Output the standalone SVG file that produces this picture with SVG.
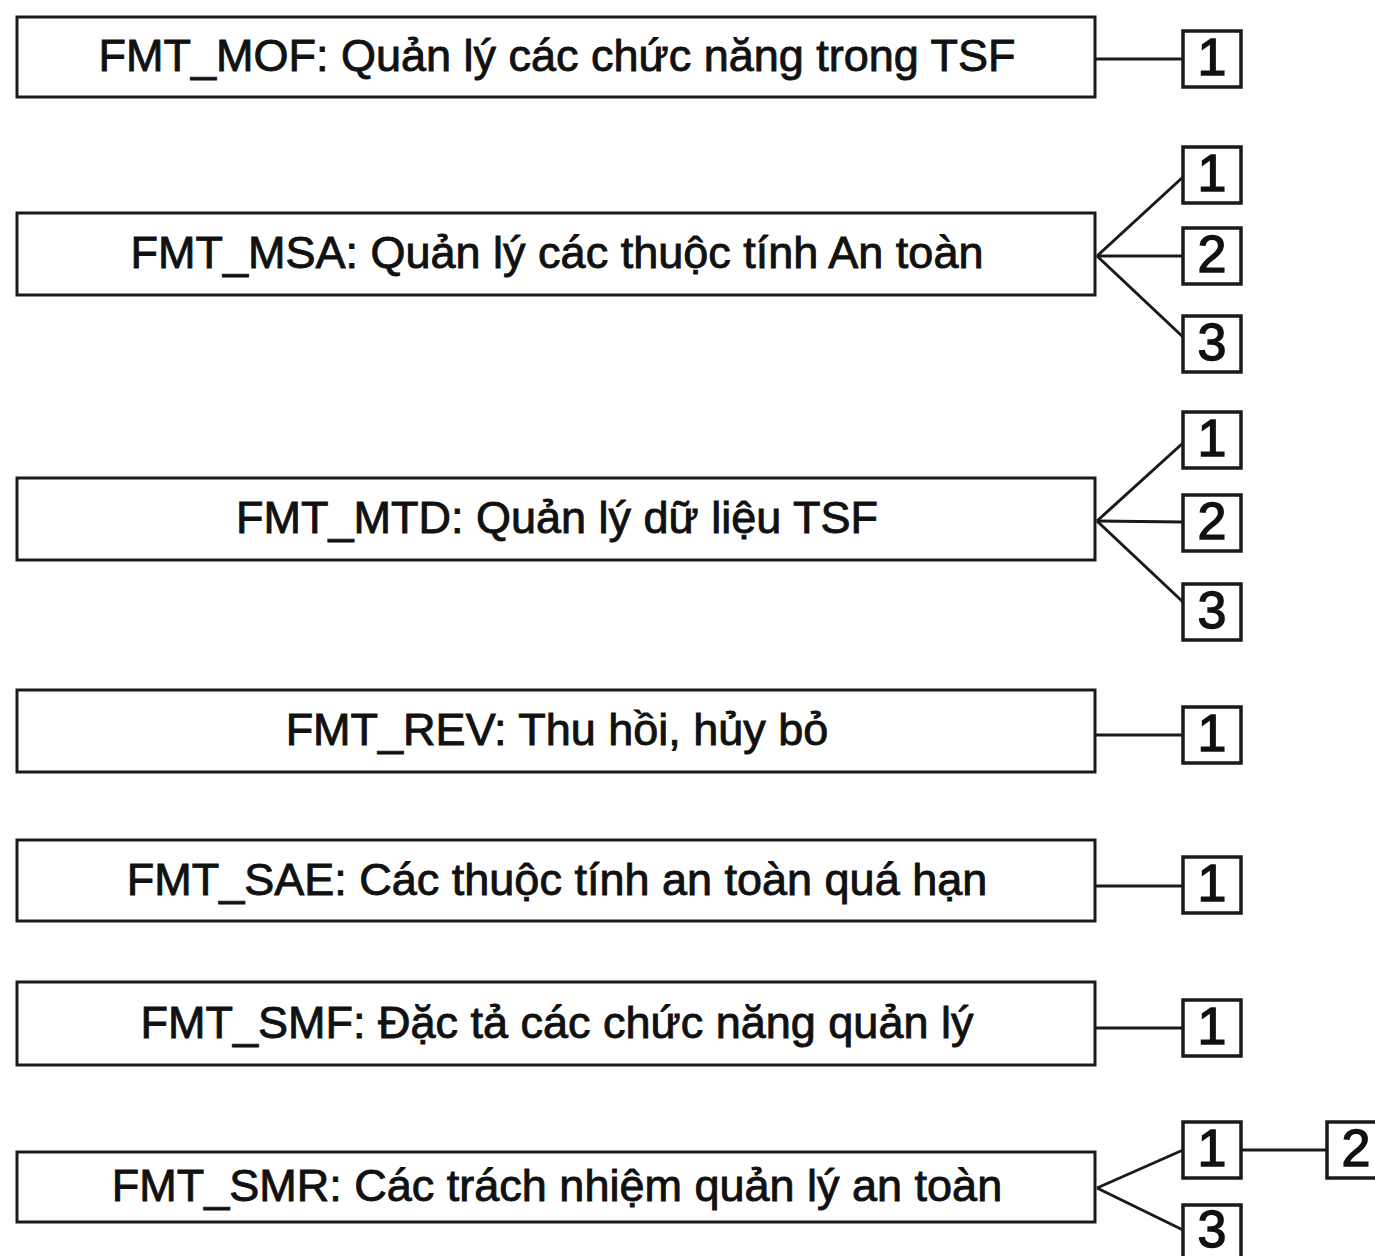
<svg xmlns="http://www.w3.org/2000/svg" width="1375" height="1256" viewBox="0 0 1375 1256">
<style>
.box{fill:#fff;stroke:#1a1a1a;stroke-width:3}
.sm{fill:#fff;stroke:#1a1a1a;stroke-width:3.5}
.lbl{font-family:"Liberation Sans",Arial,sans-serif;font-size:45px;fill:#111;stroke:#111;stroke-width:0.9;text-anchor:middle}
.num{font-family:"Liberation Sans",Arial,sans-serif;font-size:52px;fill:#111;stroke:#111;stroke-width:1.4;text-anchor:middle}
.con{stroke:#1a1a1a;stroke-width:3;fill:none}
</style>
<rect width="1375" height="1256" fill="#fff"/>
<g id="connectors">
<line class="con" x1="1095" y1="59" x2="1183" y2="59"/>
<line class="con" x1="1097" y1="256" x2="1183" y2="177"/>
<line class="con" x1="1097" y1="256" x2="1183" y2="256"/>
<line class="con" x1="1097" y1="256" x2="1183" y2="337"/>
<line class="con" x1="1097" y1="521" x2="1183" y2="443"/>
<line class="con" x1="1097" y1="521" x2="1183" y2="522"/>
<line class="con" x1="1097" y1="521" x2="1183" y2="602"/>
<line class="con" x1="1095" y1="735" x2="1183" y2="735"/>
<line class="con" x1="1095" y1="886" x2="1183" y2="886"/>
<line class="con" x1="1095" y1="1028" x2="1183" y2="1028"/>
<line class="con" x1="1097" y1="1188" x2="1183" y2="1150"/>
<line class="con" x1="1097" y1="1188" x2="1183" y2="1230"/>
<line class="con" x1="1241" y1="1150" x2="1327" y2="1150"/>
</g>
<g id="FMT_MOF"><rect class="box" x="17" y="17" width="1078" height="80"/><text class="lbl" x="557" y="71">FMT_MOF: Quản lý các chức năng trong TSF</text></g>
<g id="FMT_MSA"><rect class="box" x="17" y="213" width="1078" height="82"/><text class="lbl" x="557" y="268">FMT_MSA: Quản lý các thuộc tính An toàn</text></g>
<g id="FMT_MTD"><rect class="box" x="17" y="478" width="1078" height="82"/><text class="lbl" x="557" y="533">FMT_MTD: Quản lý dữ liệu TSF</text></g>
<g id="FMT_REV"><rect class="box" x="17" y="690" width="1078" height="82"/><text class="lbl" x="557" y="745">FMT_REV: Thu hồi, hủy bỏ</text></g>
<g id="FMT_SAE"><rect class="box" x="17" y="840" width="1078" height="81"/><text class="lbl" x="557" y="895">FMT_SAE: Các thuộc tính an toàn quá hạn</text></g>
<g id="FMT_SMF"><rect class="box" x="17" y="982" width="1078" height="83"/><text class="lbl" x="557" y="1038">FMT_SMF: Đặc tả các chức năng quản lý</text></g>
<g id="FMT_SMR"><rect class="box" x="17" y="1152" width="1078" height="70"/><text class="lbl" x="557" y="1201">FMT_SMR: Các trách nhiệm quản lý an toàn</text></g>
<g id="MOF_1"><rect class="sm" x="1183" y="31" width="58" height="56"/><text class="num" x="1212" y="75">1</text></g>
<g id="MSA_1"><rect class="sm" x="1183" y="147" width="58" height="56"/><text class="num" x="1212" y="191">1</text></g>
<g id="MSA_2"><rect class="sm" x="1183" y="228" width="58" height="56"/><text class="num" x="1212" y="272">2</text></g>
<g id="MSA_3"><rect class="sm" x="1183" y="316" width="58" height="56"/><text class="num" x="1212" y="360">3</text></g>
<g id="MTD_1"><rect class="sm" x="1183" y="412" width="58" height="56"/><text class="num" x="1212" y="456">1</text></g>
<g id="MTD_2"><rect class="sm" x="1183" y="495" width="58" height="56"/><text class="num" x="1212" y="539">2</text></g>
<g id="MTD_3"><rect class="sm" x="1183" y="584" width="58" height="56"/><text class="num" x="1212" y="628">3</text></g>
<g id="REV_1"><rect class="sm" x="1183" y="707" width="58" height="56"/><text class="num" x="1212" y="751">1</text></g>
<g id="SAE_1"><rect class="sm" x="1183" y="857" width="58" height="56"/><text class="num" x="1212" y="901">1</text></g>
<g id="SMF_1"><rect class="sm" x="1183" y="1000" width="58" height="56"/><text class="num" x="1212" y="1044">1</text></g>
<g id="SMR_1"><rect class="sm" x="1183" y="1122" width="58" height="56"/><text class="num" x="1212" y="1166">1</text></g>
<g id="SMR_2"><rect class="sm" x="1327" y="1122" width="60" height="56"/><text class="num" x="1356" y="1166">2</text></g>
<g id="SMR_3"><rect class="sm" x="1183" y="1205" width="58" height="56"/><text class="num" x="1212" y="1247">3</text></g>
</svg>
